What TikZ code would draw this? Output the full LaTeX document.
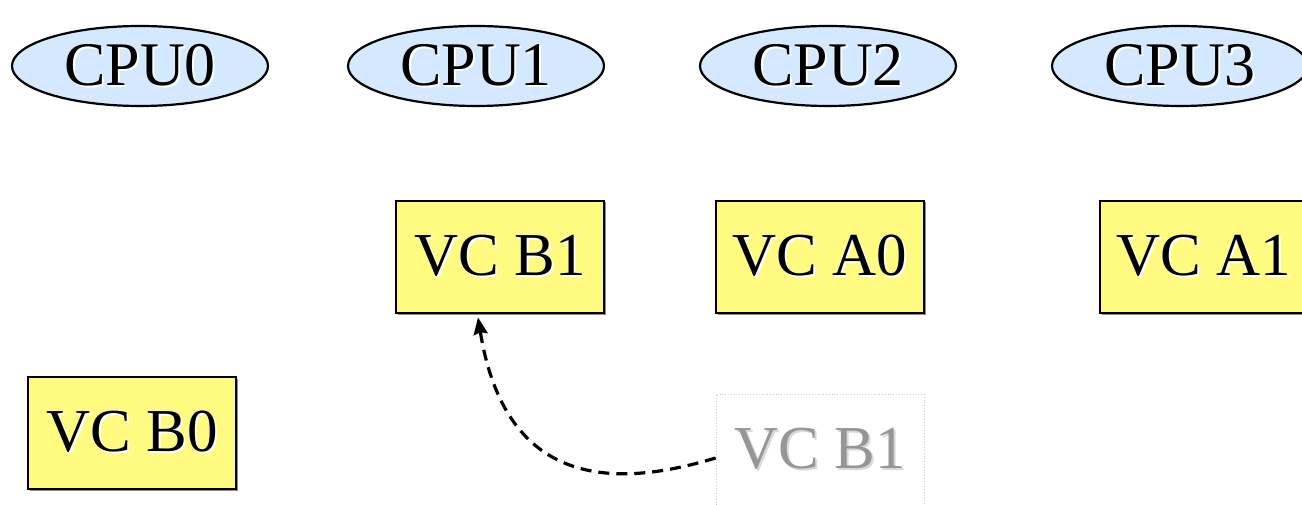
\documentclass[tikz,border=0pt]{standalone}
\usepackage{fontspec}
\setmainfont{Liberation Serif}
\usetikzlibrary{shapes.geometric,shadows,arrows.meta,calc}
\definecolor{cpublue}{RGB}{212,233,255}
\definecolor{vcyellow}{RGB}{255,251,128}
\definecolor{ghostgray}{RGB}{150,150,150}
\newcommand\shtxt[3]{\leavevmode\rlap{\hspace{2.2pt}\raisebox{-2.2pt}{\color{#2}#3}}{\color{#1}#3}}
\tikzset{
  cpu/.style={ellipse, draw=black, line width=2.2pt, fill=cpublue,
    minimum width=256pt, minimum height=80pt, inner sep=0pt,
    font=\fontsize{62}{62}\selectfont},
  vcbox/.style={rectangle, draw=black, line width=2.8pt, fill=vcyellow,
    minimum width=208pt, minimum height=112pt, inner sep=0pt,
    font=\fontsize{61}{61}\selectfont,
    drop shadow={shadow xshift=1.5pt, shadow yshift=-1.5pt, fill=black!45, opacity=1}},
  ghostbox/.style={rectangle, draw=black!22, dotted, line width=0.8pt,
    minimum width=208pt, minimum height=112pt, inner sep=0pt,
    font=\fontsize{61}{61}\selectfont},
  move/.style={dashed, dash pattern=on 11pt off 7pt, line width=3.2pt,
    -{Stealth[length=17pt,width=14pt,inset=2pt]}}
}
\begin{document}
\begin{tikzpicture}[x=1pt,y=-1pt]
\useasboundingbox (0,0) rectangle (1302,505);
\clip (0,0) rectangle (1302,505);
\node[cpu] (cpu0) at (140,66) {\shtxt{black}{white}{CPU0}};
\node[cpu] (cpu1) at (476,66) {\shtxt{black}{white}{CPU1}};
\node[cpu] (cpu2) at (828,66) {\shtxt{black}{white}{CPU2}};
\node[cpu] (cpu3) at (1180,66) {\shtxt{black}{white}{CPU3}};
\node[vcbox] (vcb1) at (500,257) {\shtxt{black}{white}{VC B1}};
\node[vcbox] (vca0) at (820,257) {\shtxt{black}{white}{VC A0}};
\node[vcbox] (vca1) at (1204,257) {\shtxt{black}{white}{VC A1}};
\node[vcbox] (vcb0) at (132,433) {\shtxt{black}{white}{VC B0}};
\node[ghostbox] (ghost) at (820,450) {\shtxt{ghostgray}{black!15}{VC B1}};
\coordinate (tip) at ($(vcb1.south)+(-22,3)$);
\coordinate (start) at ($(ghost.west)+(0,8)$);
\draw[move] (start) .. controls (610,490) and (505,485) .. (tip);
\end{tikzpicture}
\end{document}
